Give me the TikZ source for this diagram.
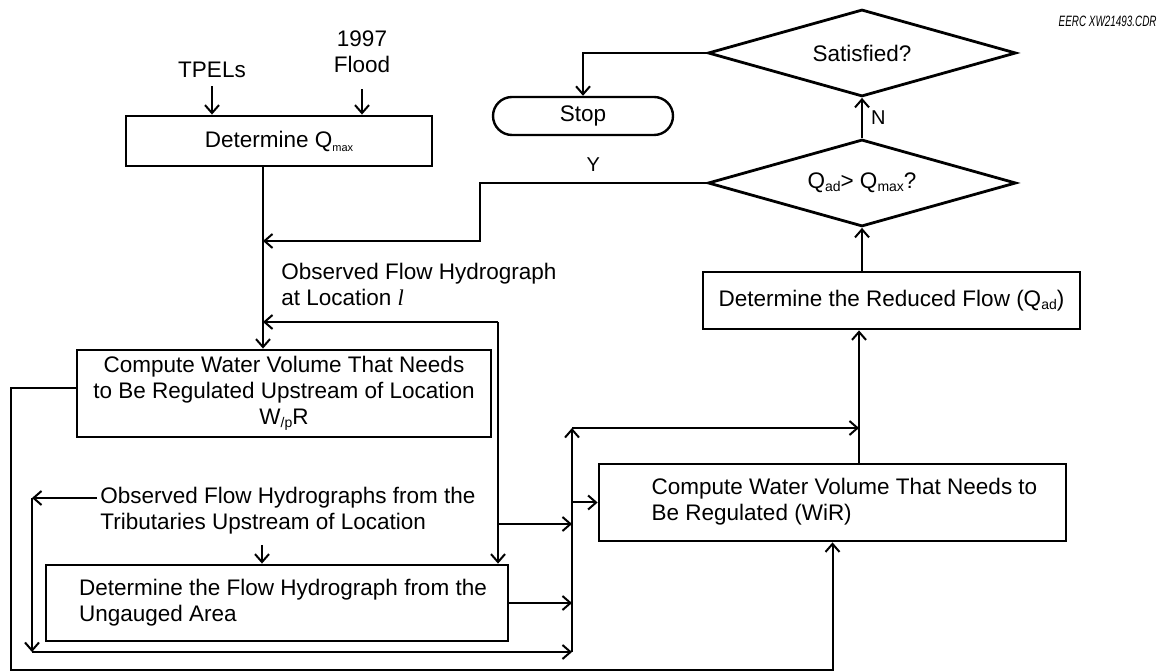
\documentclass[tikz,border=0pt]{standalone}
\usepackage{fontspec}
\setmainfont{Liberation Sans}
\newfontfamily\lserif{Liberation Serif}
\usetikzlibrary{arrows.meta,shapes.geometric,calc}
\newcommand{\mysub}[1]{\raisebox{-0.25ex}{\fontsize{7}{7}\selectfont #1}}
\newcommand{\tinysub}[1]{\raisebox{-0.35ex}{\fontsize{5.5}{5.5}\selectfont #1}}
\begin{document}
\begin{tikzpicture}[x=0.5pt,y=-0.5pt,
  every node/.style={font=\fontsize{11.25}{13}\selectfont, inner sep=0pt},
  box/.style={draw, line width=1.4pt, rectangle},
  dia/.style={draw, diamond, line width=1.4pt, minimum width=154pt, minimum height=43.5pt, aspect=3.5},
  con/.style={line width=1pt},
  arr/.style={con, -{Straight Barb[length=4pt,width=7pt]}}]
\useasboundingbox (0,0) rectangle (1160,672);

% ---- nodes ----
\node (tpel) at (212,70) {TPELs};
\node[align=center] (flood) at (362,52) {1997\\Flood};
\node[box, minimum width=153pt, minimum height=25pt] (qmax) at (279,141) {Determine Q\tinysub{max}};
\node[box, minimum width=207pt, minimum height=43.5pt, align=center] (upr) at (284,393.5)
  {Compute Water Volume That Needs\\to Be Regulated Upstream of Location\\W\mysub{/p}R};
\node[box, minimum width=231pt, minimum height=38pt] (ung) at (277,603)
  {\hspace*{6pt}\begin{tabular}{@{}l@{}}Determine the Flow Hydrograph from the\\Ungauged Area\end{tabular}};
\node[box, minimum width=233.5pt, minimum height=38.5pt] (wir) at (832.5,502.5)
  {\hspace*{12pt}\begin{tabular}{@{}l@{}}Compute Water Volume That Needs to\\Be Regulated (WiR)\end{tabular}};
\node[box, minimum width=188.5pt, minimum height=28.5pt] (red) at (891.5,300.5)
  {Determine the Reduced Flow (Q\mysub{ad})};
\node[dia] (sat) at (862,53) {Satisfied?};
\node[dia] (qad) at (862,183) {Q\mysub{ad}> Q\mysub{max}?};
\node[draw, line width=1.2pt, rounded corners=9.5pt, minimum width=90pt, minimum height=19pt] (stop) at (583,116) {Stop};
\node[anchor=west, align=left] (ofh) at (281,284) {Observed Flow Hydrograph\\at Location {\lserif\itshape l}};
\node[anchor=west, align=left] (oft) at (100,511) {Observed Flow Hydrographs from the\\Tributaries Upstream of Location};
\node[anchor=east] (eerc) at (1157,21) {\fontsize{7.5}{7.5}\selectfont\itshape\scalebox{0.66}[1]{EERC XW21493.CDR}};

% ---- helper coordinates ----
\coordinate (sp) at (263,0);
\coordinate (yc) at (480,241);
\coordinate (fb) at (498,322);
\coordinate (fbm) at (498,524);
\coordinate (cx) at (572,428);
\coordinate (cb) at (572,652);
\coordinate (lc) at (32,498);
\coordinate (lb) at (32,652);
\coordinate (rx) at (859,0);
\coordinate (od) at (262,545);
\coordinate (ol) at (11,670);

% ---- connectors ----
\draw[arr, shorten <=4pt] (tpel.south) -- (tpel.south |- qmax.north);
\draw[arr, shorten <=8pt] (flood.south) -- (flood.south |- qmax.north);
\draw[arr] (qmax.south -| sp) -- (upr.north -| sp);
\draw[arr] (qad.west) -- node[above=5pt, font=\fontsize{10}{10}\selectfont]{Y} (qad.west -| yc) -- (yc) -- (yc -| sp);
\draw[arr] (fb) -- (fb -| sp);
\draw[arr] (fb) -- (fb |- ung.north);
\draw[arr] (fbm) -- (fbm -| cx);
\draw[arr] (ung.east) -- (ung.east -| cx);
\draw[arr] ($(oft.west |- lc)+(-3,0)$) -- (lc);
\draw[arr] (lc) -- (lb);
\draw[arr] (lb) -- (cb);
\draw[arr] (od) -- (od |- ung.north);
\draw[arr] (cb) -- (cx);
\draw[arr] (cx) -- (cx -| rx);
\draw[arr] (cx |- wir.west) -- (wir.west);
\draw[arr] (wir.north -| rx) -- (red.south -| rx);
\draw[arr] (red.north -| qad.south) -- (qad.south);
\draw[arr] (qad.north) -- node[right=4pt, font=\fontsize{10}{10}\selectfont]{N} (sat.south);
\draw[arr] (sat.west) -| (stop.north);
\draw[arr] ($(upr.west)+(0,-5)$) -| (ol) -- (ol -| wir.south) -- (wir.south);
\end{tikzpicture}
\end{document}
